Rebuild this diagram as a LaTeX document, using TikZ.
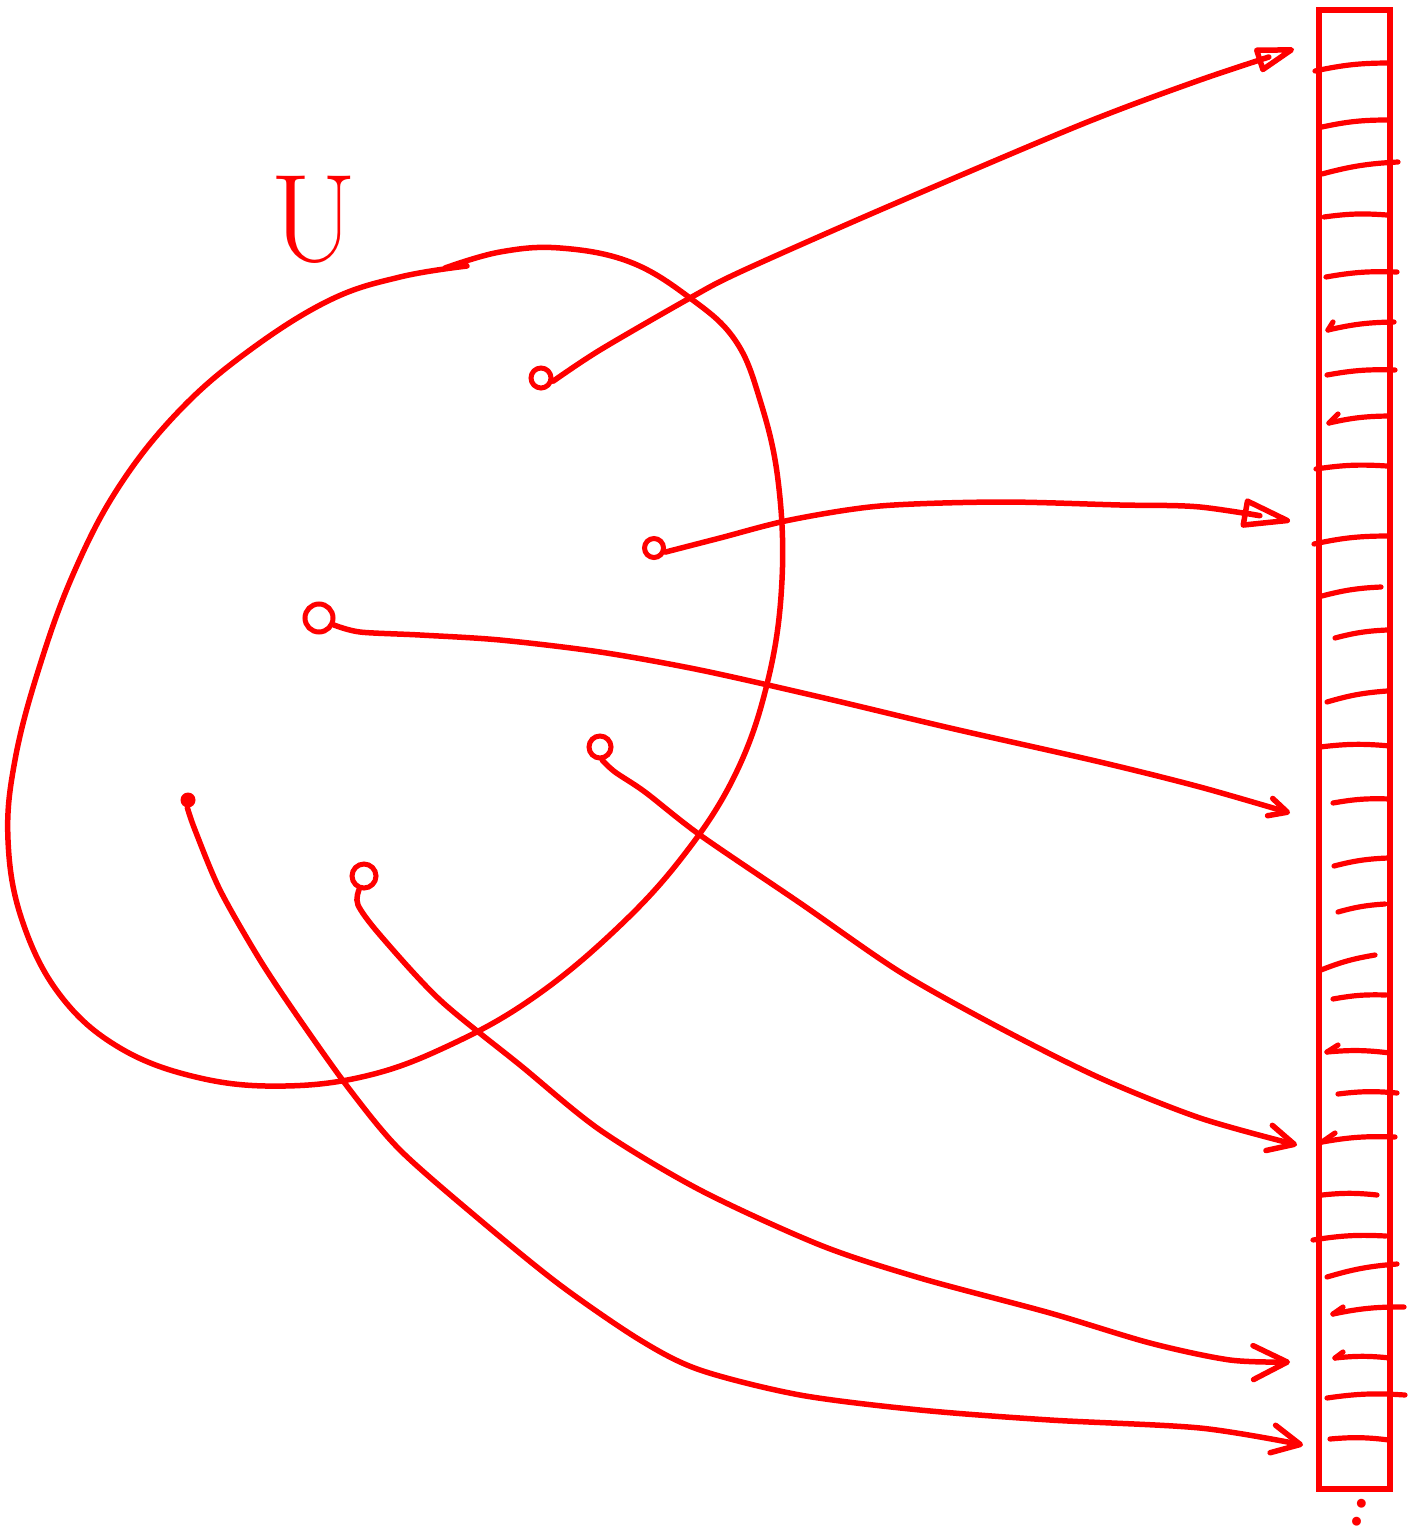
\documentclass[tikz,border=0pt]{standalone}
\usetikzlibrary{arrows.meta}
\begin{document}
\begin{tikzpicture}[x=1pt,y=-1pt,
  ink/.style={draw=red, line width=5.5pt, line cap=round, line join=round},
  tickline/.style={draw=red, line width=5.2pt, line cap=round},
  pt/.style={circle, draw=red, line width=5pt, inner sep=0pt, minimum size=#1},
  headA/.style={-{Triangle[open,length=46pt,width=26pt,round]}},
  headB/.style={-{Straight Barb[length=#1,width=#1,round]}}]
\useasboundingbox (0,0) rectangle (1410,1539);

% set U label
\node[text=red, font=\fontsize{125}{125}\selectfont] (U) at (314,220) {U};

% the blob
\draw[ink] plot[smooth, tension=0.65] coordinates {(467,266) (400,277) (330,300) (250,350) (180,410) (120,485) (75,570) (40,665) (15,760) (8,840) (22,920) (60,995) (120,1048) (200,1078) (285,1086) (370,1075) (450,1045) (530,1000) (610,935) (680,860) (735,775) (768,680) (782,580) (778,480) (760,400) (735,340) (690,298) (630,262) (560,248) (500,252) (445,268)};

% points
\node[pt=20pt] (p1) at (541,378) {};
\node[pt=19pt] (p2) at (654,548) {};
\node[pt=28pt] (p3) at (319,618) {};
\node[pt=22pt] (p4) at (600,747) {};
\node[pt=24pt] (p5) at (364,876) {};
\node[circle, fill=red, minimum size=15pt, inner sep=0pt] (p6) at (188,800) {};

% array
\node[draw=red, line width=5.5pt, minimum width=71pt, minimum height=1479pt, inner sep=0pt] (table) at (1354.5,749.5) {};
\foreach \a/\b/\c/\d in {1315/71/1389/63, 1322/127/1388/120, 1322/174/1398/162, 1324/217/1387/215, 1326/277/1397/272, 1328/330/1394/322, 1327/375/1395/370, 1329/423/1389/416, 1316/469/1387/466, 1314/544/1387/536, 1322/596/1381/587, 1335/638/1387/630, 1327/702/1387/691, 1320/747/1390/746, 1333/803/1390/799, 1334/866/1388/858, 1338/912/1385/904, 1321/970/1375/955, 1333/999/1386/995, 1327/1052/1390/1053, 1338/1094/1397/1093, 1322/1142/1395/1137, 1322/1195/1377/1195, 1313/1240/1386/1236, 1327/1277/1397/1264, 1333/1314/1404/1307, 1335/1358/1390/1358, 1327/1398/1405/1395, 1330/1439/1389/1440}
  \draw[tickline] (\a,\b) to[bend left=6] (\c,\d);
% small hooks at the start of some slot lines
\foreach \a/\b/\c/\d in {1333/322/1328/330, 1338/414/1329/423, 1338/1045/1327/1052, 1335/1133/1322/1142, 1343/1307/1333/1314, 1343/1352/1335/1358}
  \draw[tickline] (\a,\b) -- (\c,\d);

% the dots below the array
\node[text=red, font=\fontsize{62}{62}\selectfont\bfseries, rotate=-15] (more) at (1359,1513) {:};

% arrow end points
\coordinate (t1) at (1294,49);
\coordinate (t2) at (1290,521);
\coordinate (t3) at (1290,813);
\coordinate (t4) at (1297,1145);
\coordinate (t5) at (1290,1362);
\coordinate (t6) at (1303,1445);

% arrows
\draw[ink, headA] plot[smooth] coordinates {(p1.-15) (600,350) (690,298) (740,272) (880,210) (1080,125) (1200,80) (t1)};
\draw[ink, -{Triangle[open,length=56pt,width=30pt,round]}] plot[smooth] coordinates {(p2.-20) (720,538) (790,520) (880,506) (1000,502) (1120,505) (1200,507) (t2)};
\draw[ink, headB=18pt] plot[smooth] coordinates {(p3.-25) (360,632) (420,635) (500,640) (600,652) (700,670) (820,697) (950,728) (1100,762) (1200,787) (t3)};
\draw[ink, headB=26pt] plot[smooth] coordinates {(p4.-80) (615,772) (645,792) (700,835) (800,903) (900,972) (1000,1028) (1100,1078) (1200,1118) (t4)};
\draw[ink, headB=34pt] plot[smooth] coordinates {(p5.-110) (358,905) (380,935) (440,1000) (520,1065) (600,1130) (700,1190) (820,1245) (920,1278) (1050,1313) (1150,1343) (1230,1360) (t5)};
\draw[ink, headB=28pt] plot[smooth] coordinates {(p6.-95) (195,830) (220,890) (260,960) (300,1020) (350,1090) (400,1150) (480,1220) (560,1285) (640,1340) (700,1370) (800,1395) (920,1410) (1050,1420) (1200,1428) (t6)};
\end{tikzpicture}
\end{document}
